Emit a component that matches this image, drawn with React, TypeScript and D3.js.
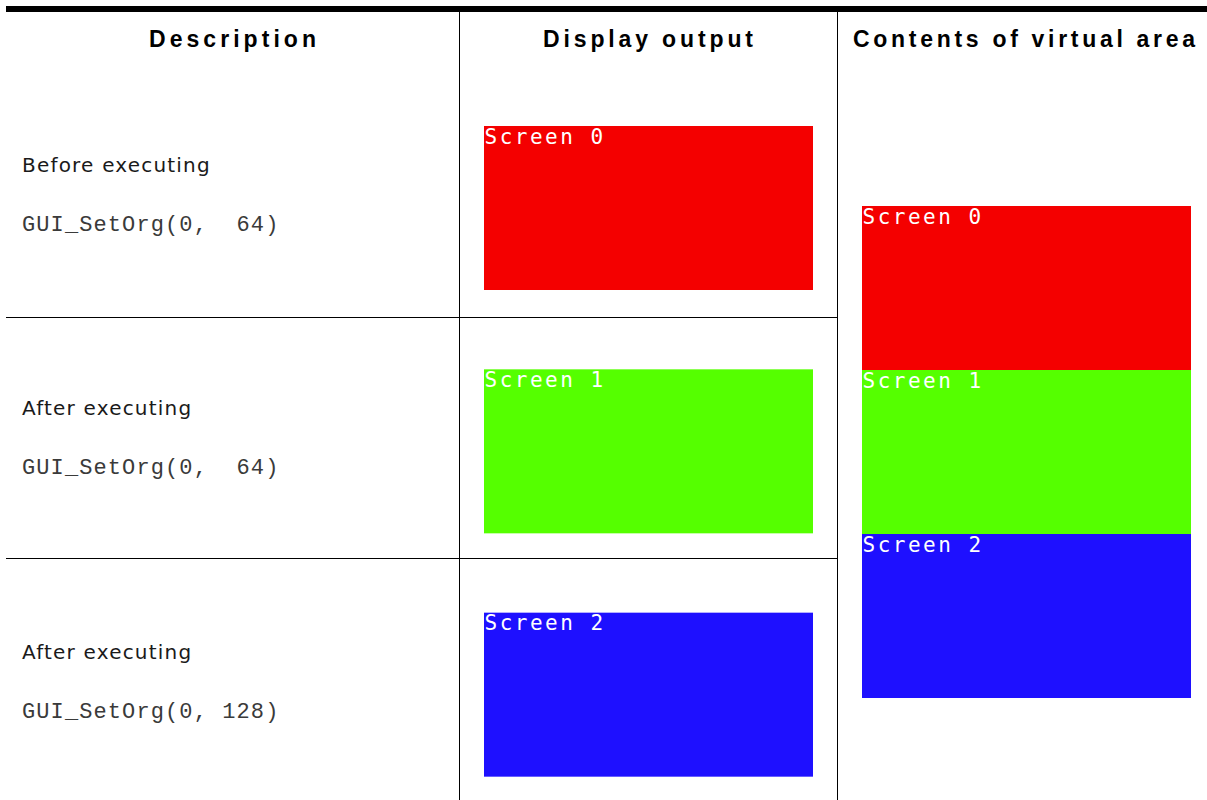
import React from "react";
import * as d3 from "d3";

const headers = ["Description", "Display output", "Contents of virtual area"];
const headerWidths = [167, 210, 342];
const rowLabels = ["Before executing", "After executing", "After executing"];
const codeLines = ["GUI_SetOrg(0,  64)", "GUI_SetOrg(0,  64)", "GUI_SetOrg(0, 128)"];
const screenNames = ["Screen 0", "Screen 1", "Screen 2"];
const screenColors = ["#f40000", "#55ff00", "#1e10ff"];
const screenOrigins = [0, 64, 128];
const displayedScreen = [0, 1, 2];
const virtualLines = 192;
const screenLines = 64;

const W = 1207;
const H = 800;
const colEdges = [6, 459, 837, 1207];

export default function App() {
  const rows = d3.scaleBand<number>().domain([0, 1, 2]).range([75, 805]);
  const vScale = d3.scaleLinear().domain([0, virtualLines]).range([206, 698]);
  const screenH = vScale(screenLines) - vScale(0);
  const dispX0 = 484;
  const dispW = 329;
  const virtX0 = 862;

  return (
    <svg
      width={W}
      height={H}
      style={{ position: "absolute", left: 0, top: 0, background: "#fff" }}
    >
      <rect x={0} y={0} width={W} height={H} fill="#fff" />
      <rect x={6} y={6} width={W - 6} height={6} fill="#000" />
      {[459.5, 837.5].map((x, i) => (
        <line key={i} x1={x} x2={x} y1={12} y2={H} stroke="#000" strokeWidth={1} />
      ))}
      {[1, 2].map((i) => {
        const y = i === 1 ? 317.5 : 558.5;
        return <line key={i} x1={6} x2={838} y1={y} y2={y} stroke="#000" strokeWidth={1} />;
      })}
      {headers.map((h, i) => (
        <text
          key={h}
          x={(colEdges[i] + colEdges[i + 1]) / 2 + (i === 2 ? 2 : 0)}
          y={47}
          textAnchor="middle"
          fontFamily="'Liberation Sans', Arial, sans-serif"
          fontWeight="bold"
          fontSize={23}
          textLength={headerWidths[i]}
          lengthAdjust="spacing"
          fill="#000"
        >
          {h}
        </text>
      ))}
      {rowLabels.map((label, i) => {
        const top = rows(i)!;
        const s = displayedScreen[i];
        return (
          <g key={i}>
            <text
              x={22}
              y={top + 97}
              fontFamily="'DejaVu Sans', Verdana, sans-serif"
              fontSize={20}
              letterSpacing={1.2}
              fill="#1a1a1a"
            >
              {label}
            </text>
            <text
              x={22}
              y={top + 156}
              fontFamily="'Liberation Mono', 'Courier New', monospace"
              fontSize={22}
              letterSpacing={1.1}
              fill="#3a3a3a"
              style={{ whiteSpace: "pre" }}
            >
              {codeLines[i]}
            </text>
            <rect x={dispX0} y={top + 51} width={dispW} height={screenH} fill={screenColors[s]} />
            <text
              x={dispX0 + 0.5}
              y={top + 51 + 17.5}
              fontFamily="'DejaVu Sans Mono', monospace"
              fontSize={21}
              letterSpacing={2.5}
              fill="#fff"
              style={{ whiteSpace: "pre" }}
            >
              {screenNames[s]}
            </text>
          </g>
        );
      })}
      {screenNames.map((name, i) => {
        const y0 = vScale(screenOrigins[i]);
        return (
          <g key={name}>
            <rect x={virtX0} y={y0} width={dispW} height={screenH} fill={screenColors[i]} />
            <text
              x={virtX0 + 0.5}
              y={y0 + 17.5}
              fontFamily="'DejaVu Sans Mono', monospace"
              fontSize={21}
              letterSpacing={2.5}
              fill="#fff"
              style={{ whiteSpace: "pre" }}
            >
              {name}
            </text>
          </g>
        );
      })}
    </svg>
  );
}
